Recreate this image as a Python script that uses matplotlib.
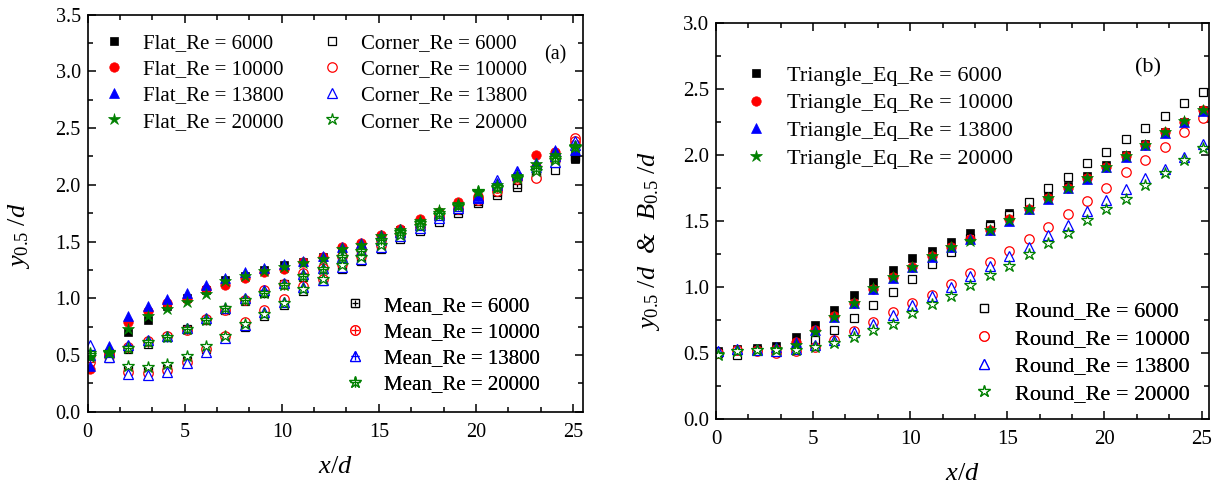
import matplotlib
matplotlib.use("Agg")
import matplotlib.pyplot as plt
from matplotlib.ticker import MultipleLocator
from matplotlib.legend_handler import HandlerTuple

plt.rcParams["font.family"] = ["Liberation Serif", "DejaVu Serif"]
plt.rcParams["mathtext.fontset"] = "custom"
plt.rcParams["mathtext.rm"] = "Liberation Serif"
plt.rcParams["mathtext.it"] = "Liberation Serif:italic"
plt.rcParams["mathtext.bf"] = "Liberation Serif:bold"

# ── data ─────────────────────────────────────────────────────────────────────
X_POS = [0.1, 1.1, 2.1, 3.1, 4.1, 5.1, 6.1, 7.1, 8.1, 9.1, 10.1, 11.1, 12.1,
         13.1, 14.1, 15.1, 16.1, 17.1, 18.1, 19.1, 20.1, 21.1, 22.1, 23.1, 24.1, 25.1]
RE_LABELS = ["6000", "10000", "13800", "20000"]

# panel (a)
FLAT_6000 = [0.51, 0.52, 0.70, 0.81, 0.93, 1.00, 1.07, 1.16, 1.20, 1.25, 1.29, 1.32, 1.36,
             1.43, 1.47, 1.54, 1.60, 1.66, 1.74, 1.80, 1.88, 1.96, 2.04, 2.08, 2.27, 2.23]
FLAT_10000 = [0.38, 0.53, 0.79, 0.89, 0.96, 0.99, 1.08, 1.12, 1.175, 1.235, 1.26, 1.32, 1.36,
              1.45, 1.49, 1.56, 1.61, 1.70, 1.76, 1.85, 1.90, 1.99, 2.08, 2.26, 2.29, 2.36]
FLAT_13800 = [0.40, 0.58, 0.84, 0.935, 0.99, 1.05, 1.12, 1.175, 1.23, 1.27, 1.30, 1.33, 1.37,
              1.45, 1.49, 1.56, 1.61, 1.67, 1.75, 1.83, 1.90, 2.00, 2.09, 2.16, 2.31, 2.31]
FLAT_20000 = [0.485, 0.53, 0.73, 0.84, 0.905, 0.97, 1.035, 1.15, 1.20, 1.24, 1.28, 1.31, 1.35,
              1.43, 1.47, 1.55, 1.60, 1.68, 1.78, 1.83, 1.95, 2.00, 2.08, 2.18, 2.26, 2.34]

CORNER_6000 = [0.52, 0.47, 0.37, 0.36, 0.38, 0.45, 0.55, 0.66, 0.75, 0.84, 0.94, 1.06, 1.15,
               1.26, 1.33, 1.43, 1.52, 1.59, 1.67, 1.75, 1.84, 1.91, 1.98, 2.08, 2.13, 2.25]
CORNER_10000 = [0.50, 0.49, 0.35, 0.34, 0.37, 0.44, 0.55, 0.67, 0.79, 0.90, 0.99, 1.11, 1.17,
                1.30, 1.37, 1.47, 1.56, 1.63, 1.71, 1.79, 1.87, 1.95, 2.05, 2.06, 2.22, 2.41]
CORNER_13800 = [0.59, 0.48, 0.33, 0.32, 0.35, 0.43, 0.53, 0.65, 0.765, 0.88, 0.97, 1.10, 1.16,
                1.28, 1.35, 1.455, 1.55, 1.62, 1.71, 1.80, 1.88, 2.04, 2.12, 2.19, 2.20, 2.39]
CORNER_20000 = [0.52, 0.52, 0.40, 0.39, 0.42, 0.49, 0.58, 0.67, 0.77, 0.86, 0.96, 1.08, 1.17,
                1.29, 1.36, 1.47, 1.56, 1.64, 1.73, 1.81, 1.94, 1.97, 2.06, 2.12, 2.22, 2.33]

MEAN_6000 = [0.50, 0.51, 0.55, 0.60, 0.66, 0.73, 0.81, 0.90, 0.98, 1.05, 1.13, 1.19, 1.26,
             1.35, 1.40, 1.49, 1.56, 1.63, 1.71, 1.78, 1.86, 1.94, 2.01, 2.08, 2.19, 2.24]
MEAN_10000 = [0.44, 0.51, 0.57, 0.62, 0.665, 0.72, 0.82, 0.90, 0.985, 1.07, 1.13, 1.22, 1.27,
              1.375, 1.43, 1.515, 1.585, 1.665, 1.735, 1.82, 1.885, 1.97, 2.065, 2.16, 2.255, 2.385]
MEAN_13800 = [0.50, 0.53, 0.585, 0.63, 0.67, 0.74, 0.825, 0.91, 1.00, 1.075, 1.135, 1.215, 1.265,
              1.365, 1.42, 1.51, 1.58, 1.645, 1.73, 1.815, 1.89, 2.02, 2.105, 2.175, 2.255, 2.35]
MEAN_20000 = [0.50, 0.525, 0.565, 0.615, 0.66, 0.73, 0.81, 0.91, 0.985, 1.05, 1.12, 1.195, 1.26,
              1.36, 1.415, 1.51, 1.58, 1.66, 1.755, 1.82, 1.945, 1.985, 2.07, 2.15, 2.24, 2.335]

# panel (b)
TRI_6000 = [0.51, 0.525, 0.535, 0.55, 0.62, 0.71, 0.82, 0.935, 1.035, 1.125, 1.215, 1.27, 1.34,
            1.41, 1.475, 1.56, 1.62, 1.69, 1.76, 1.84, 1.92, 2.00, 2.08, 2.17, 2.25, 2.34]
TRI_10000 = [0.50, 0.52, 0.52, 0.53, 0.58, 0.67, 0.78, 0.88, 0.98, 1.07, 1.15, 1.23, 1.30,
             1.36, 1.43, 1.51, 1.59, 1.67, 1.745, 1.82, 1.91, 1.99, 2.07, 2.17, 2.25, 2.34]
TRI_13800 = [0.51, 0.53, 0.53, 0.54, 0.58, 0.67, 0.77, 0.875, 0.98, 1.065, 1.15, 1.225, 1.30,
             1.36, 1.43, 1.50, 1.585, 1.665, 1.745, 1.815, 1.905, 1.985, 2.07, 2.165, 2.25, 2.33]
TRI_20000 = [0.49, 0.51, 0.52, 0.53, 0.56, 0.655, 0.77, 0.875, 0.99, 1.075, 1.15, 1.235, 1.30,
             1.35, 1.43, 1.505, 1.59, 1.67, 1.745, 1.82, 1.91, 1.99, 2.07, 2.17, 2.255, 2.34]

ROUND_6000 = [0.50, 0.48, 0.52, 0.52, 0.56, 0.60, 0.67, 0.76, 0.86, 0.96, 1.056, 1.17, 1.265,
              1.37, 1.46, 1.54, 1.64, 1.745, 1.83, 1.935, 2.02, 2.12, 2.20, 2.29, 2.39, 2.475]
ROUND_10000 = [0.50, 0.52, 0.51, 0.50, 0.515, 0.54, 0.60, 0.665, 0.73, 0.805, 0.88, 0.94, 1.02,
               1.105, 1.19, 1.27, 1.36, 1.455, 1.55, 1.65, 1.745, 1.87, 1.96, 2.06, 2.17, 2.275]
ROUND_13800 = [0.51, 0.53, 0.52, 0.51, 0.53, 0.56, 0.595, 0.655, 0.72, 0.785, 0.86, 0.93, 1.00,
               1.08, 1.16, 1.23, 1.30, 1.39, 1.47, 1.57, 1.66, 1.74, 1.82, 1.89, 1.985, 2.08]
ROUND_20000 = [0.48, 0.51, 0.52, 0.52, 0.52, 0.545, 0.57, 0.62, 0.67, 0.72, 0.80, 0.87, 0.93,
               1.01, 1.09, 1.16, 1.245, 1.33, 1.41, 1.505, 1.59, 1.665, 1.77, 1.86, 1.96, 2.05]

COLORS = ["#000000", "#ff0000", "#0000ff", "#008000"]
MARKERS = ["s", "o", "^", "*"]
MSIZE = [6, 6.8, 7.5, 9]


def style_axes(ax, xmax, ymax, fs):
    ax.set_xlim(0, xmax)
    ax.set_ylim(0, ymax)
    ax.xaxis.set_major_locator(MultipleLocator(5))
    ax.xaxis.set_minor_locator(MultipleLocator(5 / 3))
    ax.yaxis.set_major_locator(MultipleLocator(0.5))
    ax.yaxis.set_minor_locator(MultipleLocator(0.25))
    ax.yaxis.set_major_formatter(matplotlib.ticker.FormatStrFormatter("%.1f"))
    ax.tick_params(which="both", direction="in", top=True, right=True, width=1.1)
    ax.tick_params(which="major", length=6, labelsize=fs)
    ax.tick_params(which="minor", length=3.5)
    ax.tick_params(axis="x", pad=8)
    ax.tick_params(axis="y", pad=5)
    for sp in ax.spines.values():
        sp.set_linewidth(1.2)


def add_legend(ax, handles, labels, x0, y0, fs, spacing):
    leg = ax.legend(handles, labels, loc="upper left", bbox_to_anchor=(x0, y0),
                    frameon=False, fontsize=fs, handlelength=1.0, handletextpad=0.9,
                    labelspacing=spacing, borderpad=0, borderaxespad=0, numpoints=1,
                    handler_map={tuple: HandlerTuple(ndivide=1)})
    ax.add_artist(leg)


fig = plt.figure(figsize=(12.21, 4.93), dpi=100)
ax1 = fig.add_axes([0.0718, 0.1649, 0.4054, 0.8053])
ax2 = fig.add_axes([0.5864, 0.1507, 0.4040, 0.8032])

# ── panel (a) ────────────────────────────────────────────────────────────────
flat = [FLAT_6000, FLAT_10000, FLAT_13800, FLAT_20000]
corner = [CORNER_6000, CORNER_10000, CORNER_13800, CORNER_20000]
mean = [MEAN_6000, MEAN_10000, MEAN_13800, MEAN_20000]

h_flat, h_corner, h_mean = [], [], []
for i in range(4):
    c, m, s = COLORS[i], MARKERS[i], MSIZE[i]
    hc, = ax1.plot(X_POS, corner[i], ls="none", marker=m, ms=s, mfc="white", mec=c, mew=0.9)
    hm1, = ax1.plot(X_POS, mean[i], ls="none", marker=m, ms=s, mfc="white", mec=c, mew=0.9)
    hm2, = ax1.plot(X_POS, mean[i], ls="none", marker="+", ms=s * 0.8, mec=c, mew=0.9)
    hf, = ax1.plot(X_POS, flat[i], ls="none", marker=m, ms=s, mfc=c, mec=c, mew=0.5)
    h_flat.append(hf)
    h_corner.append(hc)
    h_mean.append((hm1, hm2))

style_axes(ax1, 25.5, 3.5, 14.5)
ax1.set_xlabel(r"$x/d$", fontsize=19, labelpad=10)
ax1.set_ylabel(r"$y_{\mathit{0.5}}\ /d$", fontsize=19)
ax1.yaxis.set_label_coords(-0.1125, 0.444)
ax1.text(0.944, 0.90, "(a)", transform=ax1.transAxes, fontsize=14.5, ha="center", va="center")

add_legend(ax1, h_flat, [f"Flat_Re = {r}" for r in RE_LABELS], 0.032, 0.953, 15, 0.32)
add_legend(ax1, h_corner, [f"Corner_Re = {r}" for r in RE_LABELS], 0.473, 0.953, 15, 0.32)
add_legend(ax1, h_mean, [f"Mean_Re = {r}" for r in RE_LABELS], 0.519, 0.291, 15, 0.32)

# ── panel (b) ────────────────────────────────────────────────────────────────
tri = [TRI_6000, TRI_10000, TRI_13800, TRI_20000]
rnd = [ROUND_6000, ROUND_10000, ROUND_13800, ROUND_20000]

h_tri, h_rnd = [], []
for i in range(4):
    c, m, s = COLORS[i], MARKERS[i], MSIZE[i]
    ht, = ax2.plot(X_POS, tri[i], ls="none", marker=m, ms=s, mfc=c, mec=c, mew=0.5)
    hr, = ax2.plot(X_POS, rnd[i], ls="none", marker=m, ms=s, mfc="white", mec=c, mew=0.9)
    h_tri.append(ht)
    h_rnd.append(hr)

style_axes(ax2, 25.4, 3.0, 15)
ax2.set_xlabel(r"$x/d$", fontsize=19, labelpad=10)
ax2.set_ylabel(r"$y_{\mathit{0.5}}\ /d$  &  $B_{\mathit{0.5}}\ /d$", fontsize=19, style="italic")
ax2.yaxis.set_label_coords(-0.109, 0.449)
ax2.text(0.875, 0.887, "(b)", transform=ax2.transAxes, fontsize=16, ha="center", va="center")

add_legend(ax2, h_tri, [f"Triangle_Eq_Re = {r}" for r in RE_LABELS], 0.0586, 0.893, 16, 0.32)
add_legend(ax2, h_rnd, [f"Round_Re = {r}" for r in RE_LABELS], 0.521, 0.298, 16, 0.32)

fig.savefig("out.png", dpi=100)
